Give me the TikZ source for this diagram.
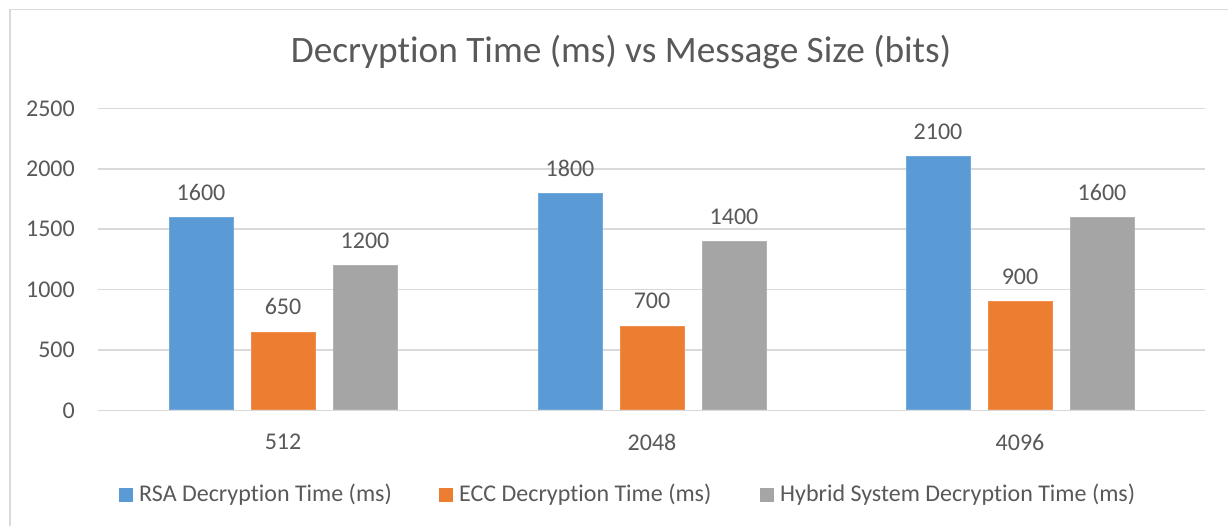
\documentclass[tikz,border=0pt]{standalone}
\usepackage{fontspec}
\setmainfont[Ligatures=NoCommon]{Carlito}
\definecolor{rsa}{HTML}{5B9BD5}
\definecolor{ecc}{HTML}{ED7D31}
\definecolor{hyb}{HTML}{A5A5A5}
\definecolor{txt}{HTML}{595959}
\definecolor{grid}{HTML}{D9D9D9}
\begin{document}
\begin{tikzpicture}[x=1pt,y=-1pt,
  lbl/.style={text=txt,font=\fontsize{24}{27}\selectfont,inner sep=0pt},
  ttl/.style={text=txt,font=\fontsize{37.3}{40}\selectfont,inner sep=0pt},
  gridline/.style={draw=grid,line width=1.6pt},
  bar/.style={line width=0.8pt}]
\useasboundingbox (0,0) rectangle (1229,526);
\fill[white] (0,0) rectangle (1229,526);
\draw[grid,line width=1.5pt] (10,526) -- (10,9.5) -- (1228,9.5);
\node[ttl] (title) at (621,52) {Decryption Time (ms) vs Message Size (bits)};
% grid and y labels
\foreach \v/\n in {0/a,500/b,1000/c,1500/d,2000/e,2500/f}{
  \pgfmathsetmacro{\yy}{410.5-\v*0.12084}
  \draw[gridline] (98,\yy) -- (1205,\yy);
  \node[lbl,anchor=east] (y\n) at (75,\yy) {\v};
}
% bars
\foreach \c/\r/\e/\h/\k in {283/1600/650/1200/512,652/1800/700/1400/2048,1020/2100/900/1600/4096}{
  \foreach \off/\val/\col in {-82/\r/rsa,0/\e/ecc,82/\h/hyb}{
    \pgfmathsetmacro{\top}{410.5-\val*0.12084}
    \pgfmathsetmacro{\xl}{\c+\off-32}
    \pgfmathsetmacro{\xr}{\c+\off+32}
    \fill[\col,draw=\col!85!white,bar] (\xl,409.7) rectangle (\xr,\top);
    \node[lbl] (v\k\col) at (\c+\off,\top-25) {\val};
  }
  \node[lbl] (x\k) at (\c,442) {\k};
}
% legend
\fill[rsa] (119,487.7) rectangle (133,501.7);
\node[lbl,anchor=west] (l1) at (139,494.5) {RSA Decryption Time (ms)};
\fill[ecc] (439,487.7) rectangle (453,501.7);
\node[lbl,anchor=west] (l2) at (459,494.5) {ECC Decryption Time (ms)};
\fill[hyb] (760,487.7) rectangle (774,501.7);
\node[lbl,anchor=west] (l3) at (780,494.5) {Hybrid System Decryption Time (ms)};
\end{tikzpicture}
\end{document}
